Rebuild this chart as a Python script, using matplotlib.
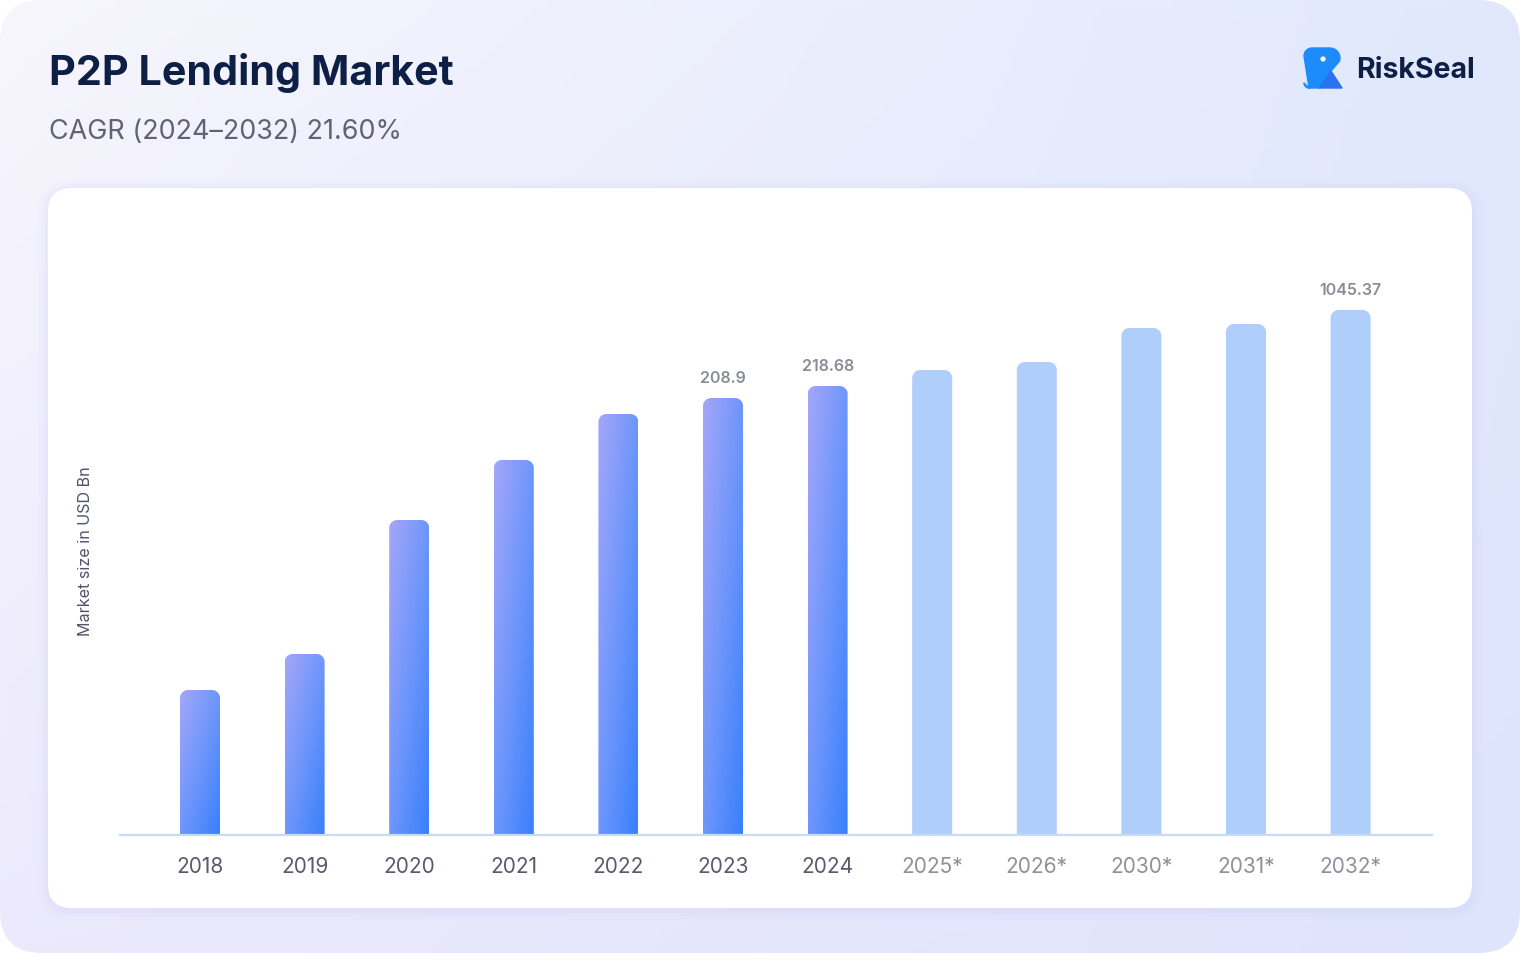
import numpy as np
import matplotlib
matplotlib.use('Agg')
import matplotlib.pyplot as plt
from matplotlib.patches import FancyBboxPatch, PathPatch, Polygon, Circle
from matplotlib.path import Path
from matplotlib.colors import LinearSegmentedColormap

# data
years = ['2018', '2019', '2020', '2021', '2022', '2023', '2024',
         '2025*', '2026*', '2030*', '2031*', '2032*']
# bar heights as drawn (the picture uses no linear scale, so relative units)
bar_heights = [145, 181, 315, 375, 421, 437, 449, 465, 473, 507, 511, 525]
forecast = [False] * 7 + [True] * 5
value_labels = {'2023': '208.9', '2024': '218.68', '2032*': '1045.37'}

title = 'P2P Lending Market'
subtitle = 'CAGR (2024\u20132032) 21.60%'
ylabel = 'Market size in USD Bn'

W, H = 1520, 964
fig = plt.figure(figsize=(W / 100, H / 100), dpi=100)
fig.patch.set_facecolor('white')

# background axes in pixel coords
bg = fig.add_axes([0, 0, 1, 1])
bg.set_xlim(0, W)
bg.set_ylim(H, 0)
bg.axis('off')

# outer card with soft gradient
gx = np.linspace(0, 1, 200)
gy = np.linspace(0, 1, 130)
GX, GY = np.meshgrid(gx, gy)
c_tl = np.array([247, 246, 253]) / 255
c_tr = np.array([225, 232, 253]) / 255
c_bl = np.array([236, 233, 253]) / 255
c_br = np.array([222, 228, 252]) / 255
img = (c_tl[None, None] * ((1 - GX) * (1 - GY))[..., None]
       + c_tr[None, None] * (GX * (1 - GY))[..., None]
       + c_bl[None, None] * ((1 - GX) * GY)[..., None]
       + c_br[None, None] * (GX * GY)[..., None])
card = FancyBboxPatch((0, 0), W, 953, boxstyle='round,pad=0,rounding_size=42',
                      facecolor='none', edgecolor='none')
bg.add_patch(card)
im = bg.imshow(img, extent=[0, W, 953, 0], aspect='auto', zorder=0)
im.set_clip_path(card)

# soft shadow + white panel
for k, a in [(10, 0.05), (6, 0.07), (3, 0.09)]:
    bg.add_patch(FancyBboxPatch((48 - k, 188 - k + 2), 1424 + 2 * k, 720 + 2 * k,
                                boxstyle='round,pad=0,rounding_size=%d' % (24 + k),
                                facecolor='#c9c6f5', edgecolor='none', alpha=a, zorder=1))
bg.add_patch(FancyBboxPatch((48, 188), 1424, 720, boxstyle='round,pad=0,rounding_size=24',
                            facecolor='white', edgecolor='none', zorder=2))

# titles
bg.text(49, 73, title, fontsize=29.7, fontweight='bold', family='Inter',
        color='#0e1f45', va='center', ha='left', zorder=3)
bg.text(49, 132, subtitle, fontsize=19.4, family='Inter',
        color='#5f6375', va='center', ha='left', zorder=3)

# logo
t = np.linspace(np.pi, 1.5 * np.pi, 8)
tl = np.column_stack([1312 + 8 * np.cos(t), 56 + 8 * np.sin(t)])
t = np.linspace(1.5 * np.pi, 2.1 * np.pi, 8)
tr = np.column_stack([1330 + 10 * np.cos(t), 58 + 10 * np.sin(t)])
t = np.linspace(0.5 * np.pi, np.pi, 6)
bl = np.column_stack([1309 + 5 * np.cos(t), 83 + 5 * np.sin(t)])[::-1]
body = np.vstack([bl[::-1][::-1], tl, tr, [[1331, 71], [1320, 88], [1309, 88]]])
bg.add_patch(Polygon(body, closed=True, facecolor='#1d8cfb', edgecolor='#1d8cfb',
                     lw=1, joinstyle='round', zorder=3))
bg.add_patch(Polygon([[1319, 88], [1342, 88], [1331, 71]], closed=True,
                     facecolor='#2a72f2', edgecolor='#2a72f2', lw=1,
                     joinstyle='round', zorder=4))
bg.add_patch(Circle((1323, 59), 2.6, facecolor='white', edgecolor='none', zorder=5))
bg.text(1356, 70, 'RiskSeal', fontsize=20.5, fontweight='bold', family='Inter',
        color='#0e1f45', va='center', ha='left', zorder=3)

# main axes, placed in pixels
ax_l, ax_r, ax_b, ax_t = 120, 1432, 835, 230
ax = fig.add_axes([ax_l / W, 1 - ax_b / H, (ax_r - ax_l) / W, (ax_b - ax_t) / H])
ax.set_facecolor('none')
x = np.arange(len(years))
step = 104.6
ax.set_xlim(-80 / step, (ax_r - ax_l - 80) / step)
ax.set_ylim(0, ax_b - ax_t)
bars = ax.bar(x, bar_heights, width=40 / step, color='none', edgecolor='none')
for s in ['top', 'right', 'left']:
    ax.spines[s].set_visible(False)
ax.spines['bottom'].set_color('#c8dbf6')
ax.spines['bottom'].set_linewidth(1.6)
ax.set_yticks([])
ax.set_xticks(x)
ax.set_xticklabels(years)
ax.tick_params(axis='x', length=0, pad=16)
for lab, f in zip(ax.get_xticklabels(), forecast):
    lab.set_fontsize(15)
    lab.set_family('Inter')
    lab.set_color('#8f909b' if f else '#575b6d')
ax.set_ylabel(ylabel, fontsize=11.6, family='Inter', color='#50546a')
ax.yaxis.set_label_coords(-(ax_l - 93) / (ax_r - ax_l), (ax_b - 551) / (ax_b - ax_t))

bar_cmap = LinearSegmentedColormap.from_list('bar', ['#a4a6f9', '#6e96fb', '#3a80fb'])


def rounded_top(x0, x1, ytop, ybase, r):
    # pixel coords, y grows downward
    t = np.linspace(np.pi, np.pi / 2, 10)
    left = np.column_stack([x0 + r + r * np.cos(t), ytop + r - r * np.sin(t)])
    t2 = np.linspace(np.pi / 2, 0, 10)
    right = np.column_stack([x1 - r + r * np.cos(t2), ytop + r - r * np.sin(t2)])
    pts = np.vstack([[x0, ybase], left, right, [x1, ybase], [x0, ybase]])
    return Path(pts, closed=True)


to_px = ax.transData + bg.transData.inverted()
for rect, f, yr in zip(bars.patches, forecast, years):
    (px0, py_top), (px1, py_base) = to_px.transform(
        [[rect.get_x(), rect.get_height()], [rect.get_x() + rect.get_width(), 0]])
    path = rounded_top(px0, px1, py_top, py_base - 0.8, 8)
    if f:
        bg.add_patch(PathPatch(path, facecolor='#b0cefa', edgecolor='none', zorder=4))
    else:
        pp = PathPatch(path, facecolor='none', edgecolor='none', zorder=4)
        bg.add_patch(pp)
        yy, xx = np.mgrid[0:1:120j, 0:1:20j]
        g = 0.5 * yy + 0.5 * xx
        gi = bg.imshow(g, cmap=bar_cmap, extent=[px0, px1, py_base, py_top],
                       aspect='auto', zorder=4, vmin=0, vmax=1, origin='upper')
        gi.set_clip_path(pp)
    if yr in value_labels:
        bg.text((px0 + px1) / 2, py_top - 12, value_labels[yr], fontsize=11.5,
                fontweight='semibold', family='Inter', color='#8a8d97',
                ha='center', va='bottom', zorder=5)

fig.savefig('out.png', dpi=100, facecolor='white')
